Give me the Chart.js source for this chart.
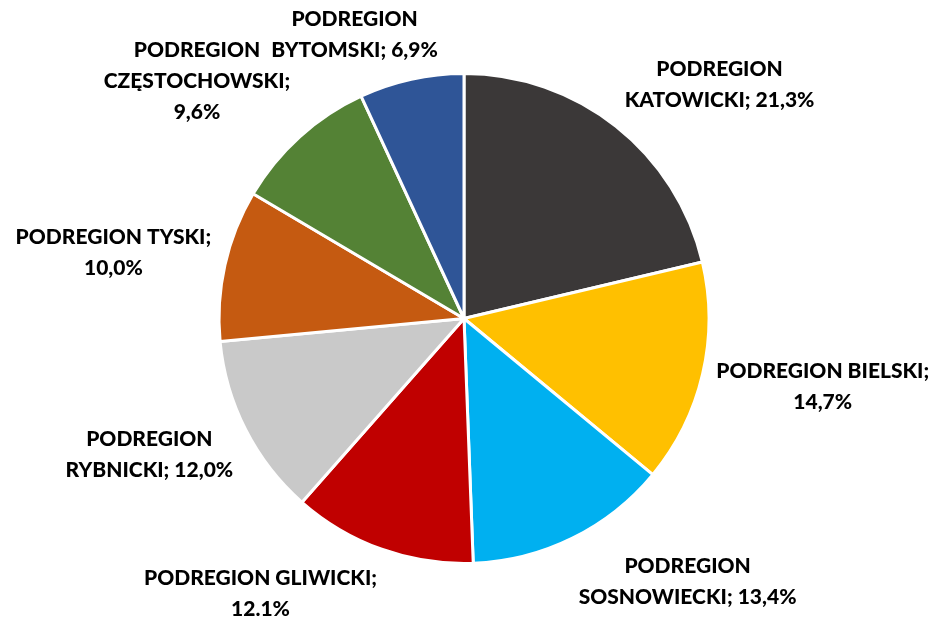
<!DOCTYPE html>
<html>
<head>
<meta charset="utf-8">
<script src="https://cdn.jsdelivr.net/npm/chart.js@4"></script>
<style>
  html, body { margin: 0; padding: 0; background: #fff; }
  #wrap { width: 936px; height: 617px; }
</style>
</head>
<body>
<div id="wrap"><canvas id="myChart" width="936" height="617"></canvas></div>
<script>
let regions = ['PODREGION KATOWICKI', 'PODREGION BIELSKI', 'PODREGION SOSNOWIECKI', 'PODREGION GLIWICKI',
               'PODREGION RYBNICKI', 'PODREGION TYSKI', 'PODREGION CZĘSTOCHOWSKI', 'PODREGION BYTOMSKI'];
let shares = [21.3, 14.7, 13.4, 12.1, 12.0, 10.0, 9.6, 6.9];
let labelLines = [
    ['PODREGION', 'KATOWICKI; 21,3%'],
    ['PODREGION BIELSKI;', '14,7%'],
    ['PODREGION', 'SOSNOWIECKI; 13,4%'],
    ['PODREGION GLIWICKI;', '12.1%'],
    ['PODREGION', 'RYBNICKI; 12,0%'],
    ['PODREGION TYSKI;', '10,0%'],
    ['PODREGION', 'CZĘSTOCHOWSKI;', '9,6%'],
    ['PODREGION', 'BYTOMSKI; 6,9%']
];
let sliceColors = ['#3B3838', '#FFC000', '#00B0F0', '#C00000', '#C9C9C9', '#C55A11', '#548235', '#2F5597'];

let labelFont = '900 21px Lato';
let lineHeight = 31;

// labels outside the pie, pushed away from the slice like Excel does
let outsideLabels = {
    id: 'outsideLabels',
    afterDraw(chart)
    {
        let ctx = chart.ctx;
        let meta = chart.getDatasetMeta(0);
        ctx.save();
        ctx.font = labelFont;
        ctx.fillStyle = '#000';
        ctx.textAlign = 'center';
        ctx.textBaseline = 'middle';
        meta.data.forEach(function(arc, i)
        {
            let p = arc.getProps(['x', 'y', 'startAngle', 'endAngle', 'outerRadius'], true);
            let mid = (p.startAngle + p.endAngle) / 2;
            let cx = Math.cos(mid), cy = Math.sin(mid);
            let r = p.outerRadius + 14;
            let ax = p.x + r * cx;
            let ay = p.y + r * cy;
            let lines = labelLines[i];
            let w = Math.max.apply(null, lines.map(function(t) { return ctx.measureText(t).width; }));
            let h = lines.length * lineHeight;
            let clamp = function(v) { return Math.max(-1, Math.min(1, v)); };
            let bx = ax + w / 2 * clamp(cx * 3);
            let by = ay + h / 2 * clamp(cy * 1.3);
            lines.forEach(function(t, k)
            {
                ctx.fillText(t, bx, by - h / 2 + lineHeight * (k + 0.5));
            });
        });
        ctx.restore();
    }
};

let ctx = document.getElementById('myChart').getContext('2d');

let myChart = new Chart(ctx,
{
    type: 'pie',
    data:
    {
        labels: regions,
        datasets:
        [{
            data: shares,
            backgroundColor: sliceColors,
            borderColor: '#ffffff',
            borderWidth: 3
        }]
    },
    options:
    {
        responsive: false,
        animation: false,
        layout: { padding: { top: 72, bottom: 52, left: 100, right: 108 } },
        plugins:
        {
            legend: { display: false },
            tooltip: { enabled: false }
        }
    },
    plugins: [outsideLabels]
});
</script>
</body>
</html>
